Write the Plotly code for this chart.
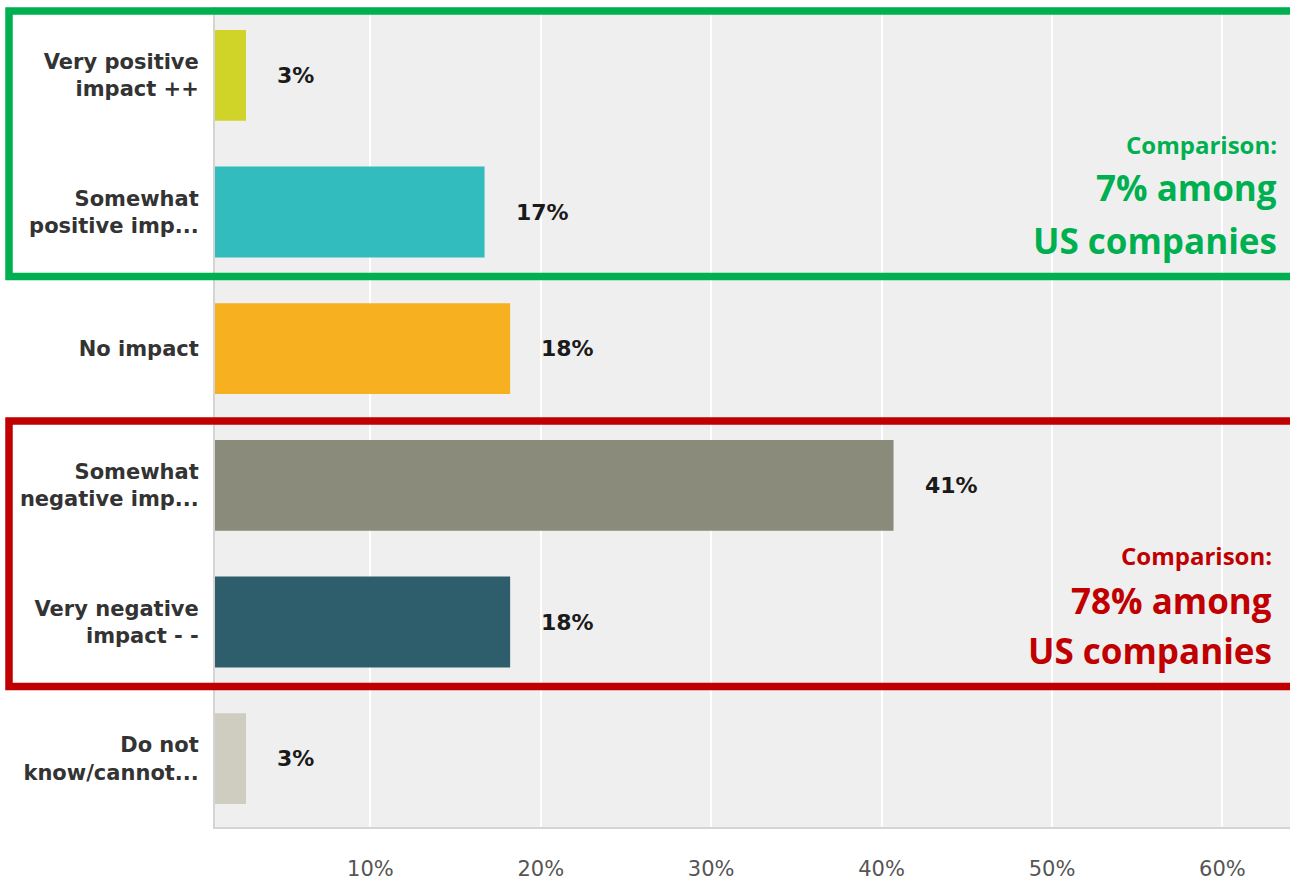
import plotly.graph_objects as go

# ---- data ----
categories = [
    "Very positive<br>impact ++",
    "Somewhat<br>positive imp...",
    "No impact",
    "Somewhat<br>negative imp...",
    "Very negative<br>impact - -",
    "Do not<br>know/cannot...",
]
values = [2.7, 16.7, 18.2, 40.7, 18.2, 2.7]
value_labels = ["3%", "17%", "18%", "41%", "18%", "3%"]
tick_values = [10, 20, 30, 40, 50, 60]
tick_labels = ["10%", "20%", "30%", "40%", "50%", "60%"]
comparison_groups = ["positive", "negative"]
comparison_values = ["7%", "78%"]

# ---- style ----
bar_colors = ["#d0d428", "#33bcbd", "#f6b020", "#8a8b7b", "#2e5e6b", "#cfcdbf"]
W, H = 1290, 881
L, R, T, B = 215, 0, 7, 54
PW, PH = W - L - R, H - T - B


def px_x(p):
    return (p - L) / PW


def px_y(p):
    return (H - B - p) / PH


fig = go.Figure()
fig.add_trace(go.Bar(
    x=values,
    y=categories,
    orientation="h",
    marker=dict(color=bar_colors, line=dict(width=0)),
    hoverinfo="skip",
))

for v, c, t in zip(values, categories, value_labels):
    fig.add_annotation(
        x=v, y=c, text=t, showarrow=False, xanchor="left", yanchor="middle",
        xshift=29, font=dict(family="DejaVu Sans", size=22, color="#1a1a1a", weight="bold"),
    )

# highlight boxes
box_specs = [
    dict(color="#00b050", top=11, bottom=276.5),
    dict(color="#c00000", top=421, bottom=686.5),
]
for b in box_specs:
    fig.add_shape(
        type="rect", xref="paper", yref="paper",
        x0=px_x(9), x1=px_x(1310), y0=px_y(b["bottom"]), y1=px_y(b["top"]),
        line=dict(color=b["color"], width=7.5), fillcolor="rgba(0,0,0,0)", layer="above",
    )

# comparison texts
cmp_colors = {"positive": "#00b050", "negative": "#c00000"}
cmp_pos = {
    "positive": dict(right=1279, lines=(144, 188, 240)),
    "negative": dict(right=1274, lines=(556, 600, 650)),
}
for g, val in zip(comparison_groups, comparison_values):
    pos = cmp_pos[g]
    texts = ["Comparison:", f"{val} among", "US companies"]
    sizes = [24, 35, 35]
    for txt, yy, sz in zip(texts, pos["lines"], sizes):
        fig.add_annotation(
            xref="paper", yref="paper", x=px_x(pos["right"]), y=px_y(yy),
            text=txt, showarrow=False, xanchor="right", yanchor="middle",
            font=dict(family="Open Sans", size=sz, color=cmp_colors[g], weight="bold"),
        )

fig.update_layout(
    width=W, height=H,
    margin=dict(l=L, r=R, t=T, b=B, autoexpand=False),
    paper_bgcolor="white",
    plot_bgcolor="#efefef",
    bargap=0.335,
    showlegend=False,
    xaxis=dict(
        range=[(L - 200) / 17.04, (W - 200) / 17.04],
        tickvals=tick_values, ticktext=tick_labels,
        showgrid=True, gridcolor="white", gridwidth=2,
        zeroline=False,
        showline=True, linecolor="#d4d4d4", linewidth=2,
        ticks="", ticklabelstandoff=22,
        tickfont=dict(family="DejaVu Sans", size=21, color="#555555"),
        fixedrange=True,
    ),
    yaxis=dict(
        autorange="reversed",
        showgrid=False, zeroline=False,
        showline=True, linecolor="#d4d4d4", linewidth=2,
        ticks="", ticklabelstandoff=10,
        tickfont=dict(family="DejaVu Sans", size=21, color="#333333", weight="bold"),
        fixedrange=True,
    ),
)

fig.write_html(
    "out.html",
    config={"displayModeBar": False},
    post_script="document.body.style.margin='0';document.body.style.overflow='hidden';",
)
